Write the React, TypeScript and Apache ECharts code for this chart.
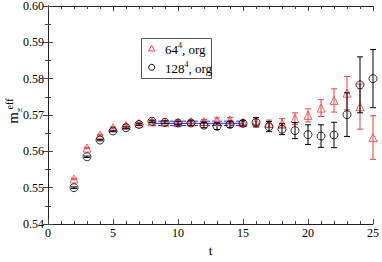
import React, { useEffect, useRef } from "react";
import * as echarts from "echarts";

const tValues = [2, 3, 4, 5, 6, 7, 8, 9, 10, 11, 12, 13, 14, 15, 16, 17, 18, 19, 20, 21, 22, 23, 24, 25];
const m64 = [0.5524, 0.5609, 0.5645, 0.5665, 0.5671, 0.5677, 0.5681, 0.5680, 0.5679, 0.5681, 0.5682, 0.5685, 0.5686, 0.5679, 0.5681, 0.5676, 0.5677, 0.5690, 0.5699, 0.5719, 0.5740, 0.5760, 0.5723, 0.5638];
const e64 = [0.0002, 0.0002, 0.0002, 0.0002, 0.0002, 0.0003, 0.0003, 0.0003, 0.0004, 0.0004, 0.0006, 0.0007, 0.0007, 0.0006, 0.0007, 0.0010, 0.0013, 0.0016, 0.0018, 0.0023, 0.0032, 0.0046, 0.0062, 0.0060];
const m128 = [0.5500, 0.5585, 0.5631, 0.5656, 0.5665, 0.5674, 0.5683, 0.5680, 0.5678, 0.5678, 0.5672, 0.5669, 0.5674, 0.5677, 0.5680, 0.5668, 0.5661, 0.5657, 0.5646, 0.5642, 0.5645, 0.5701, 0.5783, 0.5800];
const e128 = [0.0002, 0.0002, 0.0002, 0.0002, 0.0002, 0.0003, 0.0003, 0.0004, 0.0005, 0.0006, 0.0007, 0.0009, 0.0008, 0.0007, 0.0013, 0.0014, 0.0015, 0.0022, 0.0027, 0.0031, 0.0035, 0.0060, 0.0077, 0.0080];
const fitRange = [8, 15];
const fitCentral = 0.5677;
const fitLow = 0.5671;
const fitHigh = 0.5683;
const seriesNames = ["64⁴, org", "128⁴, org"];

const RED = "#ff3b3b";
const BLACK = "#000000";
const BLUE = "#2a2aff";
const FONT = "'Liberation Serif', 'DejaVu Serif', serif";

function errRender(color: string) {
  return (params: any, api: any) => {
    const x = api.value(0);
    const y = api.value(1);
    const e = api.value(2);
    const top = api.coord([x, y + e]);
    const bot = api.coord([x, y - e]);
    const hw = 3;
    const style = { stroke: color, lineWidth: 1 };
    return {
      type: "group",
      children: [
        { type: "line", shape: { x1: top[0], y1: top[1], x2: bot[0], y2: bot[1] }, style },
        { type: "line", shape: { x1: top[0] - hw, y1: top[1], x2: top[0] + hw, y2: top[1] }, style },
        { type: "line", shape: { x1: bot[0] - hw, y1: bot[1], x2: bot[0] + hw, y2: bot[1] }, style },
      ],
    };
  };
}

export default function App() {
  const ref = useRef<HTMLDivElement>(null);
  useEffect(() => {
    if (!ref.current) return;
    const chart = echarts.init(ref.current, null, { renderer: "svg" });
    const d64 = tValues.map((t, i) => [t, m64[i], e64[i]]);
    const d128 = tValues.map((t, i) => [t, m128[i], e128[i]]);
    const axisLine = { show: true, lineStyle: { color: "#222", width: 1 } };
    const axisTick = { show: true, inside: true, length: 5, lineStyle: { color: "#444" } };
    const minorTick = { show: true, length: 3, lineStyle: { color: "#444" } };
    const labelStyle = { color: "#000", fontFamily: FONT, fontSize: 12 };
    const fitLine = (v: number, dashed: boolean) => ({
      type: "line",
      data: [[fitRange[0], v], [fitRange[1], v]],
      symbol: "none",
      silent: true,
      lineStyle: { color: BLUE, width: 1, type: dashed ? [4, 2] : "solid" },
      z: 1,
    });
    chart.setOption({
      animation: false,
      textStyle: { fontFamily: FONT },
      grid: { left: 48, top: 5, right: 7, bottom: 24 },
      xAxis: [
        {
          type: "value", min: 0, max: 25, interval: 5,
          axisLine, axisTick, minorTick: { ...minorTick, splitNumber: 5 },
          splitLine: { show: false },
          axisLabel: { ...labelStyle, margin: 3 },
          name: "t", nameLocation: "middle", nameGap: 20,
          nameTextStyle: { color: "#000", fontFamily: FONT, fontSize: 13 },
        },
        {
          type: "value", min: 0, max: 25, interval: 5, position: "top",
          axisLine, axisTick, minorTick: { ...minorTick, splitNumber: 5 },
          splitLine: { show: false }, axisLabel: { show: false },
        },
      ],
      yAxis: [
        {
          type: "value", min: 0.54, max: 0.6, interval: 0.01,
          axisLine, axisTick, minorTick: { ...minorTick, splitNumber: 2 },
          splitLine: { show: false },
          axisLabel: { ...labelStyle, margin: 4, formatter: (v: number) => v.toFixed(2) },
        },
        {
          type: "value", min: 0.54, max: 0.6, interval: 0.01, position: "right",
          axisLine, axisTick, minorTick: { ...minorTick, splitNumber: 2 },
          splitLine: { show: false }, axisLabel: { show: false },
        },
      ],
      series: [
        fitLine(fitCentral, false),
        fitLine(fitLow, true),
        fitLine(fitHigh, true),
        {
          name: seriesNames[0], type: "custom", renderItem: errRender(RED), data: d64,
          encode: { x: 0, y: 1 }, z: 2, silent: true,
        },
        {
          name: seriesNames[0], type: "scatter", data: d64, symbol: "triangle", symbolSize: 8,
          itemStyle: { color: "none", borderColor: RED, borderWidth: 1 }, z: 3,
        },
        {
          name: seriesNames[1], type: "custom", renderItem: errRender(BLACK), data: d128,
          encode: { x: 0, y: 1 }, z: 4, silent: true,
        },
        {
          name: seriesNames[1], type: "scatter", data: d128, symbol: "circle", symbolSize: 8,
          itemStyle: { color: "none", borderColor: BLACK, borderWidth: 1 }, z: 5,
        },
      ],
      graphic: [
        {
          type: "rect", left: 141, top: 38, shape: { width: 70, height: 40 },
          style: { fill: "#fff", stroke: "#555", lineWidth: 1 }, z: 10,
        },
        {
          type: "polygon", shape: { points: [[151.7, 45.5], [148.5, 51], [154.9, 51]] },
          style: { fill: "none", stroke: RED, lineWidth: 1 }, z: 11,
        },
        {
          type: "circle", shape: { cx: 151.7, cy: 67.3, r: 3 },
          style: { fill: "none", stroke: BLACK, lineWidth: 1 }, z: 11,
        },
        {
          type: "text", x: 165, y: 49, z: 11,
          style: {
            text: "{n|64}{s|4}{n|, org}",
            textVerticalAlign: "middle",
            rich: {
              n: { fontFamily: FONT, fontSize: 13, fill: "#000" },
              s: { fontFamily: FONT, fontSize: 8, fill: "#000", padding: [0, 0, 8, 0] },
            },
          },
        },
        {
          type: "text", x: 165, y: 68, z: 11,
          style: {
            text: "{n|128}{s|4}{n|, org}",
            textVerticalAlign: "middle",
            rich: {
              n: { fontFamily: FONT, fontSize: 13, fill: "#000" },
              s: { fontFamily: FONT, fontSize: 8, fill: "#000", padding: [0, 0, 8, 0] },
            },
          },
        },
        {
          type: "text", x: 13, y: 118, rotation: Math.PI / 2,
          style: { text: "m", fontFamily: FONT, fontSize: 15, fill: "#000", textAlign: "center", textVerticalAlign: "middle" },
        },
        {
          type: "text", x: 9, y: 104, rotation: Math.PI / 2,
          style: { text: "eff", fontFamily: FONT, fontSize: 10, fill: "#000", textAlign: "center", textVerticalAlign: "middle" },
        },
        {
          type: "text", x: 20, y: 110, rotation: Math.PI / 2,
          style: { text: "Ξ", fontFamily: FONT, fontSize: 7, fill: "#000", textAlign: "center", textVerticalAlign: "middle" },
        },
      ],
    });
    return () => chart.dispose();
  }, []);
  return <div ref={ref} style={{ width: 382, height: 262, position: "fixed", left: 0, top: 0, background: "#fff" }} />;
}
